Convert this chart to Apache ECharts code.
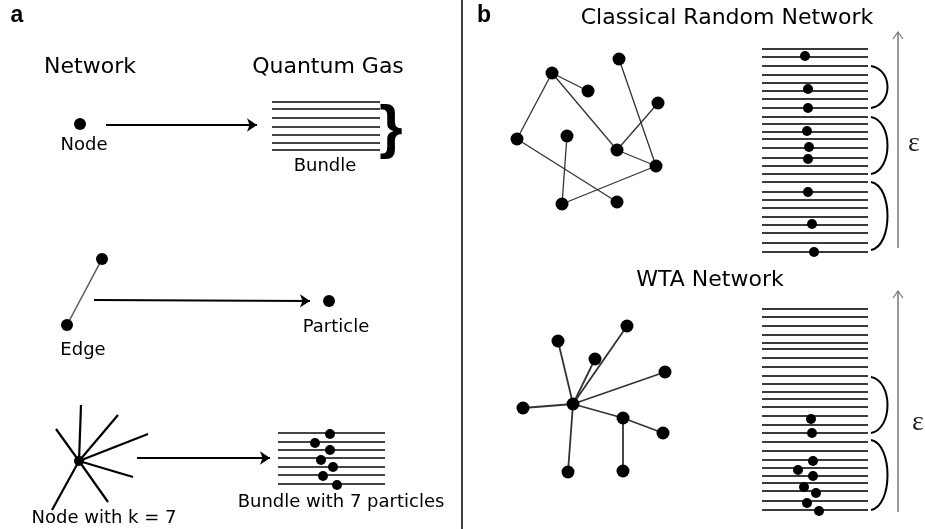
<!DOCTYPE html>
<html>
<head>
<meta charset="utf-8">
<script src="https://cdn.jsdelivr.net/npm/echarts@6.0.0/dist/echarts.min.js"></script>
<style>
  html, body { margin: 0; padding: 0; background: #fff; }
  #chart { width: 925px; height: 529px; }
</style>
</head>
<body>
<div id="chart"></div>
<script>
// ---- panel a : network -> quantum gas mapping ----
const nodeDot = [[80, 124]];
const edgeEnds = [[102, 259], [67, 325]];
const particleDot = [[329, 301]];
const starCenter = [79, 461];
const starTips = [[81, 405], [118, 415], [148, 434], [133, 477], [108, 502], [52, 510], [56, 429]];
const bundleTopX = [272, 380];
const bundleTopY = [102, 109, 118, 127, 135, 143, 150];
const bundleLowX = [278, 385];
const bundleLowY = [433, 442, 450, 458, 467, 475, 484];
const bundleDots = [[330, 434], [315, 443], [330, 450], [321, 460], [333, 467], [323, 476], [337, 485]];
const mapArrows = [[[106, 125], [257, 125]], [[94, 300], [310, 301]], [[137, 458], [270, 458]]];

// ---- panel b : random vs WTA network ----
const randNodes = [[619, 59], [552, 73], [588, 91], [658, 103], [517, 139], [567, 136], [617, 150], [656, 166], [562, 204], [617, 202]];
const randEdges = [[1, 2], [1, 4], [1, 6], [0, 7], [3, 6], [6, 7], [4, 9], [5, 8], [8, 7]];
const wtaNodes = [[573, 404], [558, 341], [595, 359], [627, 326], [665, 372], [523, 408], [623, 418], [663, 433], [568, 472], [623, 471]];
const wtaEdges = [[0, 1], [0, 2], [0, 3], [0, 4], [0, 5], [0, 6], [0, 8], [6, 7], [6, 9]];
const ladderX = [762, 868];
const ladderTopY = [49, 57, 66, 75, 83, 91, 99, 108, 117, 124, 132, 139, 148, 158, 166, 174, 182, 192, 200, 208, 217, 225, 233, 243, 252];
const ladderLowY = [309, 317, 326, 335, 343, 349, 358, 367, 376, 384, 392, 399, 407, 416, 425, 433, 442, 451, 460, 468, 476, 483, 491, 501, 510];
const ladderTopDots = [[805, 56], [808, 89], [808, 108], [807, 131], [809, 147], [808, 159], [808, 192], [812, 224], [814, 252]];
const ladderLowDots = [[811, 419], [812, 433], [813, 461], [798, 470], [813, 476], [804, 487], [816, 493], [807, 503], [819, 511]];
const brackets = [[66, 108], [117, 174], [182, 250], [377, 433], [440, 510]];
const energyX = 898;
const energyAxes = [[248, 32], [512, 291]];

// ---- text ----
const panelTags = [['a', 17, 16], ['b', 484, 16]];
const headings = [['Network', 90, 67], ['Quantum Gas', 328, 67], ['Classical Random Network', 727, 18], ['WTA Network', 710, 280]];
const captions = [['Node', 84, 145], ['Bundle', 325, 166], ['Edge', 83, 350], ['Particle', 336, 327],
                  ['Bundle with 7 particles', 341, 502], ['Node with k = 7', 104, 518]];
const braceMark = [['}', 391, 130]];
const epsLabels = [['ε', 914, 144], ['ε', 918, 423]];
const divider = [[461.5, 0], [461.5, 529]];

const chart = echarts.init(document.getElementById('chart'));

function hSegs(ys, xs) { return ys.map(y => ({ coords: [[xs[0], y], [xs[1], y]] })); }
function netSegs(nodes, edges) { return edges.map(e => ({ coords: [nodes[e[0]], nodes[e[1]]] })); }

function lineSeries(data, color, width, extra) {
    return Object.assign({
        type: 'lines', coordinateSystem: 'cartesian2d', data: data, silent: true, clip: false,
        lineStyle: { color: color, width: width, opacity: 1 }, symbol: 'none'
    }, extra || {});
}
function dotSeries(data, size) {
    return { type: 'scatter', data: data, symbolSize: size, itemStyle: { color: '#000', opacity: 1 },
             silent: true, clip: false, z: 5 };
}
function textSeries(list, label) {
    return {
        type: 'scatter', silent: true, clip: false, symbolSize: 1, itemStyle: { color: 'rgba(0,0,0,0)', opacity: 1 }, z: 6,
        data: list.map(t => ({ name: t[0], value: [t[1], t[2]] })),
        label: Object.assign({ show: true, position: 'inside', formatter: '{b}', color: '#000', opacity: 1,
                               fontFamily: 'DejaVu Sans' }, label)
    };
}

const starSegs = starTips.map(t => ({ coords: [starCenter, t] }));
const chevrons = energyAxes.map(a => ({ coords: [[energyX - 5, a[1] + 7], [energyX, a[1]], [energyX + 5, a[1] + 7]] }));

chart.setOption({
    animation: false,
    backgroundColor: '#fff',
    grid: { left: 0, right: 0, top: 0, bottom: 0 },
    xAxis: { type: 'value', min: 0, max: 925, show: false },
    yAxis: { type: 'value', min: 0, max: 529, inverse: true, show: false },
    series: [
        lineSeries([{ coords: divider }], '#000', 1.5),
        lineSeries(mapArrows.map(a => ({ coords: a })), '#000', 2, { symbol: ['none', 'arrow'], symbolSize: 10 }),
        lineSeries([{ coords: edgeEnds }], '#555', 1.5),
        lineSeries(starSegs, '#000', 2.2),
        lineSeries(hSegs(bundleTopY, bundleTopX).concat(hSegs(bundleLowY, bundleLowX)), '#444', 2),
        lineSeries(hSegs(ladderTopY, ladderX).concat(hSegs(ladderLowY, ladderX)), '#3a3a3a', 2),
        lineSeries(netSegs(randNodes, randEdges), '#333', 1.3),
        lineSeries(netSegs(wtaNodes, wtaEdges), '#333', 1.8),
        lineSeries(energyAxes.map(a => ({ coords: [[energyX, a[0]], [energyX, a[1]]] })), '#777', 1.5),
        lineSeries(chevrons, '#777', 1.2, { polyline: true }),
        {
            type: 'custom', coordinateSystem: 'cartesian2d', silent: true, clip: false,
            data: brackets.map(b => [ladderX[1] + 3, b[0], b[1]]),
            renderItem: function (params, api) {
                const p1 = api.coord([api.value(0), api.value(1)]);
                const p2 = api.coord([api.value(0), api.value(2)]);
                const k = 22;
                return {
                    type: 'bezierCurve',
                    shape: { x1: p1[0], y1: p1[1], x2: p2[0], y2: p2[1],
                             cpx1: p1[0] + k, cpy1: p1[1] + 4, cpx2: p2[0] + k, cpy2: p2[1] - 4 },
                    style: { stroke: '#000', lineWidth: 2, fill: null }
                };
            }
        },
        dotSeries(nodeDot.concat(edgeEnds, particleDot), 12),
        dotSeries([starCenter], 10),
        dotSeries(bundleDots, 10),
        dotSeries(randNodes.concat(wtaNodes), 13),
        dotSeries(ladderTopDots.concat(ladderLowDots), 10),
        textSeries(panelTags, { fontSize: 23, fontWeight: 'bold', fontFamily: 'Liberation Sans' }),
        textSeries(headings, { fontSize: 22 }),
        textSeries(captions, { fontSize: 18 }),
        textSeries(braceMark, { fontSize: 60, fontWeight: 'bold', fontFamily: 'Liberation Sans' }),
        textSeries(epsLabels, { fontSize: 28, fontFamily: 'Liberation Serif', color: '#222' })
    ]
});

window.addEventListener('resize', () => chart.resize());
</script>
</body>
</html>
